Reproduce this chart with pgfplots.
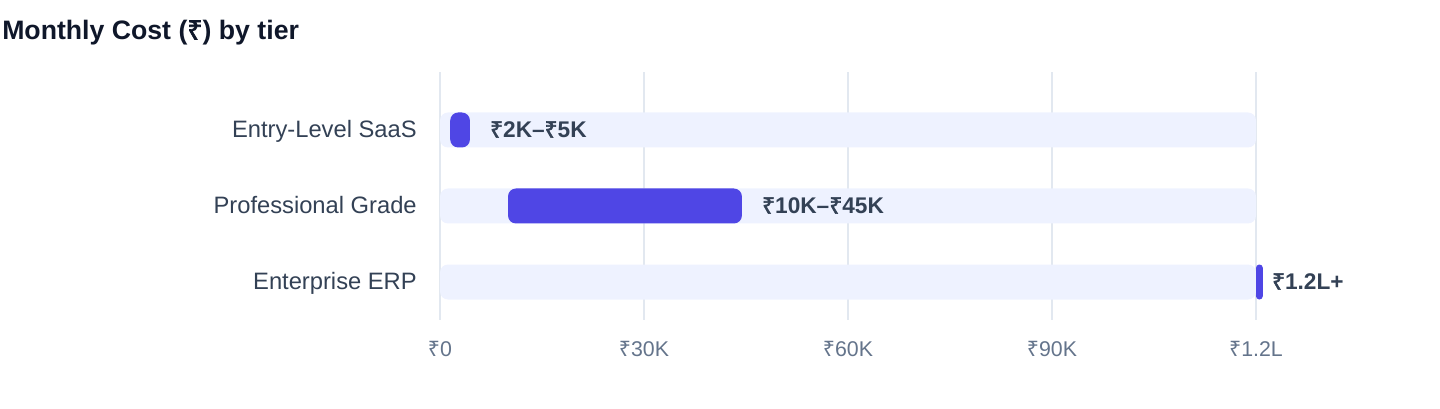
\documentclass[border=0pt]{standalone}
\usepackage{pgfplots}
\pgfplotsset{compat=1.18}
\usepackage{fontspec}
\setmainfont{Liberation Sans}
\newfontfamily\rupeefont{Noto Sans}[BoldFont={Noto Sans}, BoldFeatures={FakeBold=2.5}]
\newcommand{\R}{{\rupeefont ₹}}

\definecolor{titlec}{HTML}{0F172A}
\definecolor{labelc}{HTML}{334155}
\definecolor{tickc}{HTML}{64748B}
\definecolor{gridc}{HTML}{E2E8F0}
\definecolor{trackc}{HTML}{EEF2FF}
\definecolor{barc}{HTML}{4F46E5}

% shared frame for the overlaid axes
\pgfplotsset{
  frame/.style={
    at={(330pt,66pt)}, anchor=south west,
    scale only axis, width=612pt, height=186pt,
    xmin=0, xmax=120000, ymin=-0.763, ymax=2.5,
    y dir=reverse, clip=false, scaled x ticks=false
  }
}

\begin{document}
\begin{tikzpicture}
\path[use as bounding box] (0,0) rectangle (1080pt,306pt);

\node[anchor=base west, inner sep=0pt, text=titlec,
  font=\fontsize{20}{24}\selectfont\bfseries]
  at (1.5pt,276.4pt) {Monthly Cost (\R) by tier};

% background: grid, tracks, tick labels
\begin{axis}[frame,
  axis line style={draw=none},
  major tick length=0pt,
  xmajorgrids,
  grid style={gridc, line width=0.9pt},
  xtick={0,30000,60000,90000,120000},
  xticklabels={\R0, \R30K, \R60K, \R90K, \R1.2L},
  xticklabel style={anchor=base, inner sep=0pt, yshift=-27.5pt,
    text=tickc, font=\fontsize{16}{19}\selectfont},
  ytick={0,1,2},
  yticklabels={Entry-Level SaaS, Professional Grade, Enterprise ERP},
  yticklabel style={anchor=base east, inner sep=0pt, xshift=-17.25pt,
    yshift=-5.8pt, text=labelc, font=\fontsize{17.8}{21}\selectfont},
  xbar, bar width=26.25pt,
]
\addplot[fill=trackc, draw=none, rounded corners=6pt]
  coordinates {(120000,0) (120000,1) (120000,2)};
\end{axis}

% cost ranges: entry and professional
\begin{axis}[frame, hide axis, xbar stacked, bar width=26.25pt]
\addplot[draw=none, fill=none] coordinates {(1500,0) (10000,1)};
\addplot[fill=barc, draw=none, rounded corners=6pt]
  coordinates {(2900,0) (34400,1)};
\end{axis}

% cost range: enterprise (narrow pill) and value labels
\begin{axis}[frame, hide axis, xbar stacked, bar width=26.25pt]
\addplot[draw=none, fill=none] coordinates {(120000,2)};
\addplot[fill=barc, draw=none, rounded corners=2.5pt]
  coordinates {(1000,2)};
\tikzset{val/.style={anchor=base west, inner sep=0pt, text=labelc,
  font=\fontsize{17}{20}\selectfont\bfseries}}
\node[val, xshift=15pt, yshift=-5.7pt] at (axis cs:4400,0) {\R2K–\R5K};
\node[val, xshift=15pt, yshift=-5.7pt] at (axis cs:44400,1) {\R10K–\R45K};
\node[val, xshift=6.75pt, yshift=-5.7pt] at (axis cs:121000,2) {\R1.2L+};
\end{axis}
\end{tikzpicture}
\end{document}
